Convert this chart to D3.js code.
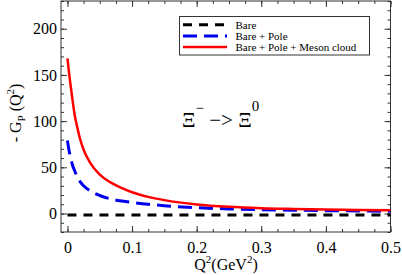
<!DOCTYPE html>
<html>
<head>
<meta charset="utf-8">
<script src="https://cdn.jsdelivr.net/npm/d3@7"></script>
<style>
  body { margin: 0; background: #fff; }
  svg text { font-family: "Liberation Serif", "DejaVu Serif", serif !important; }
</style>
</head>
<body>
<div id="grafica"></div>
<script>
// data
q2     = [0, 0.002, 0.005, 0.008, 0.0113, 0.015, 0.019, 0.025, 0.035, 0.05, 0.066, 0.081, 0.1, 0.125, 0.15, 0.2, 0.25, 0.3, 0.35, 0.4, 0.45, 0.5]
bare   = [-1.5, -1.5, -1.5, -1.5, -1.5, -1.5, -1.5, -1.5, -1.5, -1.5, -1.5, -1.5, -1.5, -1.5, -1.5, -1.5, -1.5, -1.5, -1.5, -1.5, -1.5, -1.5]
pole   = [79, 70, 60, 52, 46, 40, 35, 30, 24.5, 19.5, 16, 13.8, 12, 10, 8.5, 6.3, 5.0, 4.2, 3.6, 3.1, 2.8, 2.5]
meson  = [168, 155, 138, 122, 106, 94, 82, 69, 55, 42, 34, 28.5, 23, 18, 14.5, 9.8, 7.2, 5.7, 4.9, 4.3, 3.9, 3.6]
series = ['Bare', 'Bare + Pole', 'Bare + Pole + Meson cloud']
yTicks = [0, 50, 100, 150, 200]
xTicks = [0, 0.1, 0.2, 0.3, 0.4, 0.5]

ancho_total = 402
alto_total  = 275
margin = { left: 61, right: 11.5, top: 1, bottom: 43 }
ancho = ancho_total - margin.left - margin.right
alto  = alto_total - margin.top - margin.bottom

svg = d3.select('#grafica')
        .append('svg')
        .attr('width', ancho_total)
        .attr('height', alto_total)
        .attr('font-family', 'Liberation Serif')

g = svg.append('g')
       .attr('transform', `translate(${margin.left}, ${margin.top})`)

x = d3.scaleLinear().domain([-0.01, 0.5]).range([0, ancho])
y = d3.scaleLinear().domain([-20, 230]).range([alto, 0])

// minor + major ticks, all pointing inward
xMinor = d3.range(0, 0.5001, 0.025)
yMinor = d3.range(-20, 231, 10)

function styleAxis(sel) {
  sel.attr('font-family', 'Liberation Serif')
  sel.select('.domain').remove()
  sel.selectAll('line').attr('stroke', '#333')
  sel.selectAll('text')
     .attr('font-size', '16px')
     .attr('font-family', 'Liberation Serif')
     .attr('fill', '#000')
}

// 1. minor ticks
g.append('g').attr('transform', `translate(0, ${alto})`)
  .call(d3.axisBottom(x).tickValues(xMinor).tickSize(-3).tickFormat(''))
  .call(styleAxis)
g.append('g')
  .call(d3.axisTop(x).tickValues(xMinor).tickSize(-3).tickFormat(''))
  .call(styleAxis)
g.append('g')
  .call(d3.axisLeft(y).tickValues(yMinor).tickSize(-3).tickFormat(''))
  .call(styleAxis)
g.append('g').attr('transform', `translate(${ancho}, 0)`)
  .call(d3.axisRight(y).tickValues(yMinor).tickSize(-3).tickFormat(''))
  .call(styleAxis)

// 2. major ticks with labels
g.append('g').attr('transform', `translate(0, ${alto})`)
  .call(d3.axisBottom(x).tickValues(xTicks).tickSize(-6).tickPadding(10).tickFormat(d3.format('')))
  .call(styleAxis)
g.append('g')
  .call(d3.axisTop(x).tickValues(xTicks).tickSize(-6).tickFormat(''))
  .call(styleAxis)
g.append('g')
  .call(d3.axisLeft(y).tickValues(yTicks).tickSize(-6).tickPadding(4).tickFormat(d3.format('')))
  .call(styleAxis)
g.append('g').attr('transform', `translate(${ancho}, 0)`)
  .call(d3.axisRight(y).tickValues(yTicks).tickSize(-6).tickFormat(''))
  .call(styleAxis)

// 3. frame
g.append('rect')
  .attr('x', 0).attr('y', 0)
  .attr('width', ancho).attr('height', alto)
  .attr('fill', 'none')
  .attr('stroke', '#333')
  .attr('stroke-width', 1)

// 4. curves
line = d3.line()
  .x((d) => x(d[0]))
  .y((d) => y(d[1]))
  .curve(d3.curveMonotoneX)

estilos = [
  { vals: bare,  color: '#000000', w: 3,   dash: '9,7' },
  { vals: pole,  color: '#0000ee', w: 3,   dash: '14,7' },
  { vals: meson, color: '#ff0000', w: 2.5, dash: null }
]

estilos.forEach((s) => {
  g.append('path')
    .datum(q2.map((q, i) => [q, s.vals[i]]))
    .attr('d', line)
    .attr('fill', 'none')
    .attr('stroke', s.color)
    .attr('stroke-width', s.w)
    .attr('stroke-dasharray', s.dash)
})

// 5. legend
leg = svg.append('g')
leg.append('rect')
  .attr('x', 179.5).attr('y', 16.5)
  .attr('width', 190).attr('height', 38.5)
  .attr('fill', '#fff')
  .attr('stroke', '#333')
series.forEach((name, i) => {
  yy = 24.7 + i * 11.2
  leg.append('line')
    .attr('x1', 183).attr('x2', 227)
    .attr('y1', yy).attr('y2', yy)
    .attr('stroke', estilos[i].color)
    .attr('stroke-width', estilos[i].w)
    .attr('stroke-dasharray', estilos[i].dash)
  leg.append('text')
    .attr('x', 235.5).attr('y', yy + 3.8)
    .attr('font-size', '11px')
    .text(name)
})

// 6. annotation
ann = svg.append('text')
  .attr('x', 182).attr('y', 127)
  .attr('font-size', '21px')
ann.append('tspan').text('Ξ')
ann.append('tspan').attr('dy', -14).attr('font-size', '15px').text('−')
ann.append('tspan').attr('dy', 14).text(' −> Ξ')
ann.append('tspan').attr('dy', -16).attr('font-size', '15px').text('0')

// 7. axis titles
xt = svg.append('text')
  .attr('x', 226).attr('y', 270)
  .attr('text-anchor', 'middle')
  .attr('font-size', '16px')
xt.append('tspan').text('Q')
xt.append('tspan').attr('dy', -7).attr('font-size', '11px').text('2')
xt.append('tspan').attr('dy', 7).text('(GeV')
xt.append('tspan').attr('dy', -7).attr('font-size', '11px').text('2')
xt.append('tspan').attr('dy', 7).text(')')

yt = svg.append('text')
  .attr('transform', 'translate(21, 113) rotate(-90)')
  .attr('text-anchor', 'middle')
  .attr('font-size', '16px')
yt.append('tspan').text('- G')
yt.append('tspan').attr('dy', 4).attr('font-size', '11px').text('P')
yt.append('tspan').attr('dy', -4).text(' (Q')
yt.append('tspan').attr('dy', -7).attr('font-size', '11px').text('2')
yt.append('tspan').attr('dy', 7).text(')')
</script>
</body>
</html>
